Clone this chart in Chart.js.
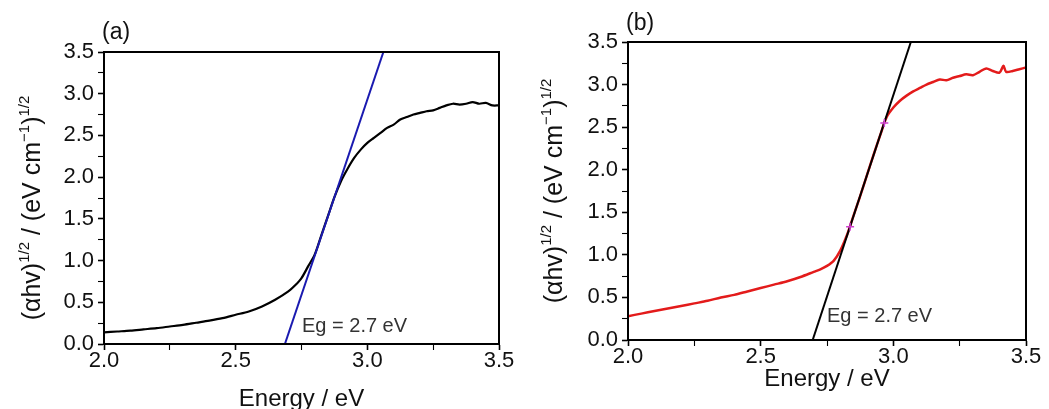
<!DOCTYPE html>
<html lang="en">
<head>
    <meta charset="UTF-8">
    <title>Tauc plots</title>
    <script src="https://cdn.jsdelivr.net/npm/chart.js"></script>
    <style>
        body { margin: 0; background: #fff; }
        .panel { position: absolute; top: 0; height: 409px; }
        #wrapA { left: 0; width: 520px; }
        #wrapB { left: 520px; width: 529px; }
    </style>
</head>
<body>
    <div class="panel" id="wrapA"><canvas id="chartA"></canvas></div>
    <div class="panel" id="wrapB"><canvas id="chartB"></canvas></div>

<script>
    // Energy / eV, panel (a)
    var energyA = [2.00, 2.05, 2.10, 2.15, 2.20, 2.25, 2.30, 2.35, 2.40, 2.45, 2.50, 2.55, 2.60, 2.65, 2.70,
        2.725, 2.75, 2.775, 2.80, 2.825, 2.85, 2.875, 2.90, 2.925, 2.95, 2.975,
        3.00, 3.025, 3.05, 3.075, 3.10, 3.125, 3.15, 3.175, 3.20, 3.225, 3.25, 3.275,
        3.30, 3.325, 3.35, 3.375, 3.40, 3.425, 3.45, 3.475, 3.50];
    var tFuncA = [0.14, 0.15, 0.16, 0.175, 0.19, 0.21, 0.23, 0.255, 0.28, 0.31, 0.35, 0.39, 0.45, 0.53, 0.63,
        0.70, 0.79, 0.93, 1.07, 1.30, 1.53, 1.76, 1.95, 2.10, 2.23, 2.33,
        2.41, 2.47, 2.53, 2.59, 2.63, 2.69, 2.72, 2.75, 2.77, 2.79, 2.80, 2.83,
        2.86, 2.88, 2.87, 2.88, 2.90, 2.88, 2.89, 2.86, 2.86];
    // tangent (band gap fit), panel (a)
    var fitA_x = [2.687, 3.061];
    var fitA_y = [0, 3.5];

    // Energy / eV, panel (b)
    var energyB = [2.00, 2.05, 2.10, 2.15, 2.20, 2.25, 2.30, 2.35, 2.40, 2.45, 2.50, 2.55, 2.60, 2.65, 2.70,
        2.725, 2.75, 2.775, 2.80, 2.825, 2.85, 2.875, 2.90, 2.925, 2.95, 2.975,
        3.00, 3.025, 3.05, 3.075, 3.10, 3.125, 3.15, 3.175, 3.20, 3.225, 3.25, 3.275,
        3.30, 3.325, 3.35, 3.375, 3.40, 3.415, 3.425, 3.45, 3.475, 3.50];
    var tFuncB = [0.28, 0.31, 0.34, 0.37, 0.40, 0.43, 0.46, 0.50, 0.53, 0.57, 0.61, 0.65, 0.69, 0.74, 0.80,
        0.83, 0.87, 0.93, 1.05, 1.23, 1.46, 1.69, 1.93, 2.17, 2.40, 2.62,
        2.73, 2.81, 2.87, 2.92, 2.96, 3.00, 3.03, 3.06, 3.05, 3.08, 3.10, 3.12,
        3.11, 3.15, 3.19, 3.16, 3.14, 3.22, 3.15, 3.16, 3.18, 3.20];
    var fitB_x = [2.696, 3.066];
    var fitB_y = [0, 3.5];
    // fit range markers, panel (b)
    var markB_x = [2.837, 2.966];
    var markB_y = [1.33, 2.55];

    var xTicks = [2.0, 2.5, 3.0, 3.5];
    var yTicks = [0.0, 0.5, 1.0, 1.5, 2.0, 2.5, 3.0, 3.5];

    var FONT = '"Liberation Sans", Arial, sans-serif';
    Chart.defaults.font.family = FONT;
    Chart.defaults.color = '#111';

    function pts(xs, ys) {
        return xs.map(function (x, i) { return { x: x, y: ys[i] }; });
    }

    function isMajor(v, list) {
        return list.some(function (t) { return Math.abs(t - v) < 1e-6; });
    }

    // frame + texts drawn on top of the chart
    function decorPlugin(opt) {
        return {
            id: 'decor',
            afterDraw: function (chart) {
                var ctx = chart.ctx, a = chart.chartArea;
                ctx.save();
                ctx.strokeStyle = '#000';
                ctx.lineWidth = 2;
                ctx.strokeRect(a.left, a.top, a.right - a.left, a.bottom - a.top);

                ctx.fillStyle = '#111';
                ctx.textBaseline = 'alphabetic';
                ctx.textAlign = 'left';
                ctx.font = '23px ' + FONT;
                ctx.fillText(opt.letter, a.left - 2, opt.letterY);

                ctx.fillStyle = '#333';
                ctx.font = '20px ' + FONT;
                ctx.fillText('Eg = 2.7 eV', opt.egX, opt.egY);

                ctx.fillStyle = '#111';
                ctx.textAlign = 'center';
                ctx.font = '24px ' + FONT;
                ctx.fillText('Energy / eV', (a.left + a.right) / 2, opt.xTitleY);

                // rotated y title with superscripts
                var parts = [
                    { t: '(\u03B1hv)', s: false },
                    { t: '1/2', s: true },
                    { t: ' / (eV cm', s: false },
                    { t: '\u22121', s: true },
                    { t: ')', s: false },
                    { t: '1/2', s: true }
                ];
                ctx.translate(opt.yTitleX, (a.top + a.bottom) / 2 + opt.yTitleShift);
                ctx.rotate(-Math.PI / 2);
                ctx.textAlign = 'left';
                var total = 0;
                parts.forEach(function (p) {
                    ctx.font = (p.s ? '15px ' : '25px ') + FONT;
                    p.w = ctx.measureText(p.t).width;
                    total += p.w;
                });
                var cx = -total / 2;
                parts.forEach(function (p) {
                    ctx.font = (p.s ? '15px ' : '25px ') + FONT;
                    ctx.fillText(p.t, cx, p.s ? -11 : 0);
                    cx += p.w;
                });
                ctx.restore();
            }
        };
    }

    function makeChart(id, datasets, box, opt) {
        var ctx = document.getElementById(id).getContext('2d');
        return new Chart(ctx, {
            type: 'scatter',
            data: { datasets: datasets },
            options: {
                responsive: true,
                maintainAspectRatio: false,
                animation: false,
                events: [],
                layout: { padding: { left: 0, top: box.top, right: box.right, bottom: 0 } },
                plugins: { legend: { display: false }, tooltip: { enabled: false } },
                scales: {
                    x: {
                        type: 'linear', min: 2.0, max: 3.5,
                        afterFit: function (s) { s.height = box.xh; },
                        border: { color: '#000', width: 2 },
                        grid: {
                            drawOnChartArea: false, color: '#000', tickLength: 6,
                            tickWidth: function (c) { return isMajor(c.tick.value, xTicks) ? 1.6 : 1.1; }
                        },
                        ticks: {
                            stepSize: 0.25, autoSkip: false, maxRotation: 0, padding: -2,
                            font: { size: 22 }, color: '#111',
                            callback: function (v) { return isMajor(v, xTicks) ? v.toFixed(1) : ''; }
                        }
                    },
                    y: {
                        type: 'linear', min: 0, max: 3.5,
                        afterFit: function (s) { s.width = box.left; },
                        border: { color: '#000', width: 2 },
                        grid: {
                            drawOnChartArea: false, color: '#000', tickLength: 6,
                            tickWidth: function (c) { return isMajor(c.tick.value, yTicks) ? 1.6 : 1.1; }
                        },
                        ticks: {
                            stepSize: 0.25, autoSkip: false, padding: 4,
                            font: { size: 22 }, color: '#111',
                            callback: function (v) { return isMajor(v, yTicks) ? v.toFixed(1) : ''; }
                        }
                    }
                }
            },
            plugins: [decorPlugin(opt)]
        });
    }

    makeChart('chartA', [
        { data: pts(fitA_x, fitA_y), showLine: true, borderColor: '#1a1ab0', borderWidth: 2, pointRadius: 0 },
        { data: pts(energyA, tFuncA), showLine: true, borderColor: '#000', borderWidth: 2.2, pointRadius: 0, tension: 0.3 }
    ], { left: 104, right: 21, top: 52, xh: 65 },
       { letter: '(a)', letterY: 39, egX: 302, egY: 332, xTitleY: 406, yTitleX: 40, yTitleShift: 10 });

    makeChart('chartB', [
        { data: pts(markB_x, markB_y), showLine: false, pointStyle: 'cross', pointRadius: 4, borderColor: '#d040d0', borderWidth: 1.5 },
        { data: pts(fitB_x, fitB_y), showLine: true, borderColor: '#000', borderWidth: 2, pointRadius: 0 },
        { data: pts(energyB, tFuncB), showLine: true, borderColor: '#e31b1b', borderWidth: 2.5, pointRadius: 0, tension: 0.3 }
    ], { left: 108, right: 23, top: 42, xh: 69 },
       { letter: '(b)', letterY: 30, egX: 307, egY: 322, xTitleY: 386, yTitleX: 42, yTitleShift: 0 });
</script>
</body>
</html>
